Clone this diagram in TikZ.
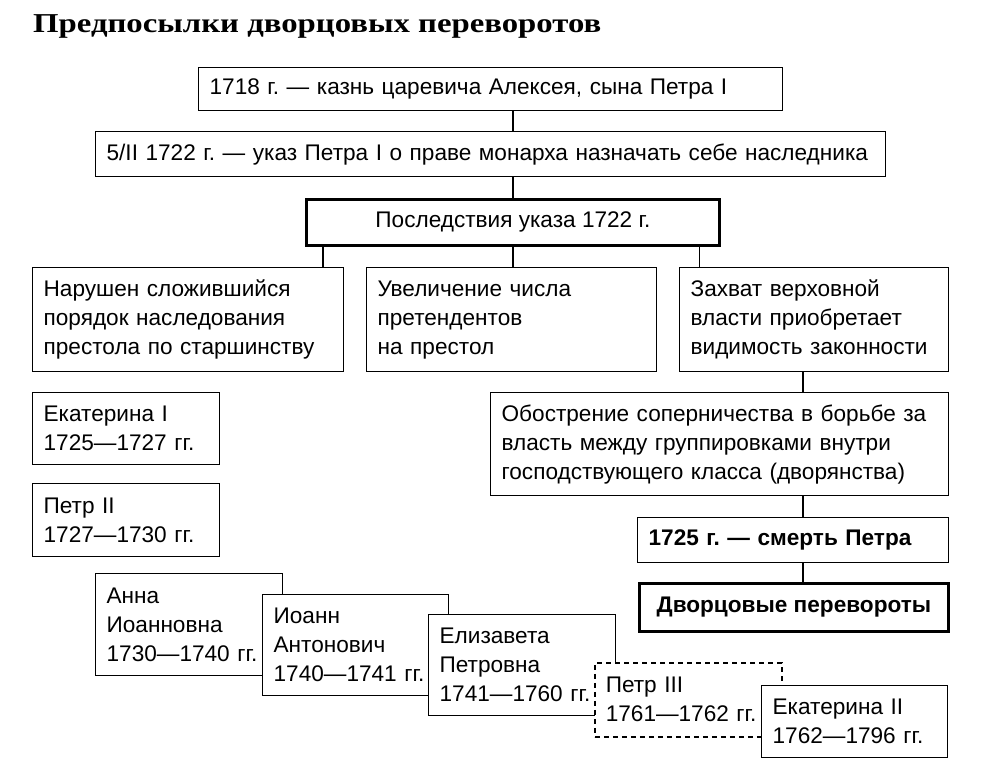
\documentclass[tikz,border=0pt]{standalone}
\usepackage{fontspec}
\setmainfont{Liberation Sans}
\newfontfamily\headfont[FakeStretch=1.2]{Liberation Serif}
\usepackage{tikz}
\usetikzlibrary{positioning, calc}
\newcommand{\boxfont}{\fontsize{22.6}{29}\selectfont}
\frenchspacing

\begin{document}
\begin{tikzpicture}[
    x=1pt, y=-1pt,
    box/.style={draw, line width=1.3pt, fill=white, anchor=north west, inner xsep=11pt, inner ysep=0pt, align=left, font=\boxfont},
    keybox/.style={box, line width=2.8pt, align=center},
    ruler/.style={box, text width=165pt},
    link/.style={line width=1.3pt},
]
    \path[fill=white] (0,0) rectangle (985,768);
    \useasboundingbox (0,0) rectangle (985,768);

    \node[anchor=base west, inner sep=0pt, font=\headfont\bfseries\fontsize{27.3}{30}\selectfont] (title) at (33,33) {Предпосылки дворцовых переворотов};

    \node[box, text width=562pt, minimum height=43pt] (execution) at (198,67) {1718 г. — казнь царевича Алексея, сына Петра I};
    \node[box, text width=768pt, minimum height=45pt] (decree) at (95,131) {5/II 1722 г. — указ Петра I о праве монарха назначать себе наследника};
    \node[keybox, minimum width=413pt, minimum height=46pt] (ukazres) at (305,198) {Последствия указа 1722 г.};

    \node[box, text width=289pt, minimum height=104pt] (order) at (32,267) {Нарушен сложившийся\\порядок наследования\\престола по старшинству};
    \node[box, text width=268pt, minimum height=104pt] (growth) at (366,267) {Увеличение числа\\претендентов\\на престол};
    \node[box, text width=247pt, minimum height=104pt] (seize) at (679,267) {Захват верховной\\власти приобретает\\видимость законности};

    \node[box, text width=436pt, minimum height=103pt] (sharpen) at (490,392) {Обострение соперничества в борьбе за\\власть между группировками внутри\\господствующего класса (дворянства)};
    \node[box, text width=289pt, minimum height=45pt, font=\boxfont\bfseries] (death) at (637,517) {1725 г. — смерть Петра};
    \node[keybox, minimum width=309pt, minimum height=48pt, font=\boxfont\bfseries] (coups) at (638,582) {Дворцовые перевороты};

    % rulers
    \node[ruler, minimum height=72pt] (ekat1) at (32,392) {Екатерина I\\1725—1727 гг.};
    \node[ruler, minimum height=73pt] (petr2) at (32,483) {Петр II\\1727—1730 гг.};
    \node[ruler, minimum height=102pt] (anna) at (95,573) {Анна\\Иоанновна\\1730—1740 гг.};
    \node[ruler, text width=164pt, minimum height=101pt] (ioann) at (262,594) {Иоанн\\Антонович\\1740—1741 гг.};
    \node[ruler, minimum height=101pt] (elizaveta) at (428,614) {Елизавета\\Петровна\\1741—1760 гг.};
    \node[ruler, dashed, dash pattern=on 5pt off 4pt, line width=1.6pt, minimum height=74pt] (petr3) at (594,662) {Петр III\\1761—1762 гг.};
    \node[ruler, text width=164pt, minimum height=72pt] (ekat2) at (761,685) {Екатерина II\\1762—1796 гг.};

    \draw[link] (execution.south -| ukazres) -- (decree.north -| ukazres);
    \draw[link] (decree.south -| ukazres) -- (ukazres.north);
    \draw[link] ([xshift=18pt]ukazres.south west) -- ([xshift=18pt]ukazres.south west |- order.north);
    \draw[link] (ukazres.south) -- (ukazres.south |- growth.north);
    \draw[link] ([xshift=-21pt]ukazres.south east) -- ([xshift=-21pt]ukazres.south east |- seize.north);

    % right branch
    \coordinate (spine) at (803,0);
    \draw[link] (seize.south -| spine) -- (sharpen.north -| spine);
    \draw[link] (sharpen.south -| spine) -- (death.north -| spine);
    \draw[link] (death.south -| spine) -- (coups.north -| spine);
\end{tikzpicture}
\end{document}
